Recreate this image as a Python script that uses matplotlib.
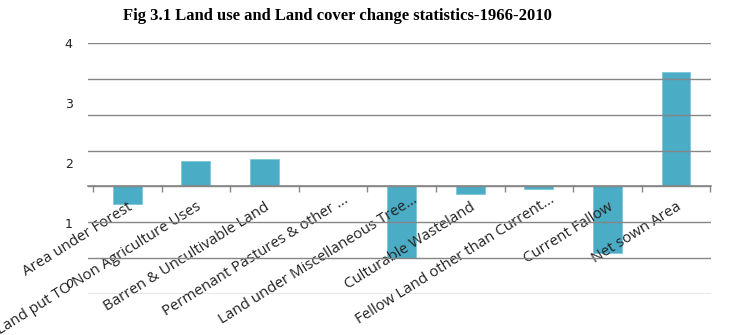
import matplotlib

matplotlib.use("Agg")
import matplotlib.pyplot as plt
import matplotlib.transforms as mtransforms
import numpy as np

# change in land use categories, 1966-2010
categories = [
    "Area under Forest",
    "Land put TO Non Agriculture Uses",
    "Barren & Uncultivable Land",
    "Permenant Pastures & other ...",
    "Land under Miscellaneous Tree...",
    "Culturable Wasteland",
    "Fellow Land other than Current...",
    "Current Fallow",
    "Net sown Area",
]
change = [-0.5, 0.7, 0.76, 0.0, -2.0, -0.2, -0.08, -1.86, 3.2]
value_labels = ["0", "1", "2", "3", "4"]

BAR = "#4bacc6"
GRID = "#868686"

fig = plt.figure(figsize=(7.36, 3.35), dpi=100)
ax = fig.add_axes([88 / 736, 41 / 335, 623 / 736, 251 / 335])

# value labels on their own scale at the left edge
ax2 = ax.twinx()
ax2.set_ylim(-0.183, 4.0)
ax2.set_yticks(np.arange(len(value_labels)))
ax2.set_yticklabels(value_labels, fontsize=9, family="DejaVu Sans", color="#222222")
ax2.yaxis.tick_left()
ax2.tick_params(axis="y", length=0, pad=11)
for side in ax2.spines:
    ax2.spines[side].set_visible(False)
ax2.tick_params(axis="x", bottom=False, labelbottom=False)
ax2.set_zorder(0)
ax.set_zorder(1)
ax.patch.set_visible(False)

x = np.arange(len(categories))
ax.bar(x, change, width=0.42, color=BAR, edgecolor="#7fc6d8", linewidth=0.6, zorder=1.5)

ax.set_xlim(-0.573, len(categories) - 0.49)
ax.set_ylim(-3, 4)
ax.set_yticks(np.arange(-3, 5))
ax.yaxis.grid(True, color=GRID, linewidth=1.0, zorder=0.5)
ax.tick_params(axis="y", left=False, right=False, labelleft=False, labelright=False)

for side in ("left", "right", "top"):
    ax.spines[side].set_visible(False)
ax.spines["bottom"].set_position(("data", 0))
ax.spines["bottom"].set_color(GRID)
ax.spines["bottom"].set_linewidth(1.2)
ax.spines["bottom"].set_zorder(2)

ax.set_xticks(np.arange(-0.5, len(categories)), minor=True)
ax.tick_params(axis="x", which="minor", length=4, width=1, color=GRID, direction="out")
ax.set_xticks(x)
ax.set_xticklabels(categories, rotation=32, ha="right", va="center",
                   rotation_mode="anchor", fontsize=10.8, family="Open Sans", color="#222222")
ax.tick_params(axis="x", which="major", length=0, pad=14)
for lbl in ax.get_xticklabels():
    # truncated names sit a little further along the slant
    dx, dy = (14, 7) if lbl.get_text().endswith("...") else (4, 0)
    shift = mtransforms.ScaledTranslation(dx / 100, dy / 100, fig.dpi_scale_trans)
    lbl.set_transform(lbl.get_transform() + shift)
    lbl.set_zorder(5)

fig.text(0.458, 0.952, "Fig 3.1 Land use and Land cover change statistics-1966-2010",
         ha="center", va="center", fontsize=12, fontweight="bold", family="Liberation Serif")

fig.savefig("out.png", dpi=100)
